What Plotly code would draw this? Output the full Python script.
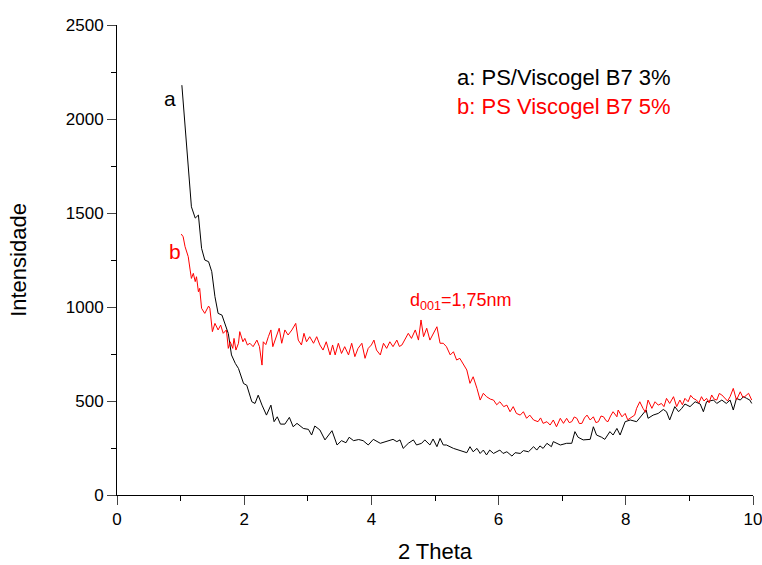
import plotly.graph_objects as go

# Series a: PS/Viscogel B7 3% (black)
a_x = [1.02, 1.05, 1.10, 1.15, 1.17, 1.23, 1.28, 1.33, 1.38, 1.44, 1.49, 1.54, 1.59, 1.65, 1.70,
       1.75, 1.80, 1.86, 1.91, 1.99, 2.04, 2.12, 2.17, 2.22, 2.28, 2.35, 2.42, 2.47, 2.52, 2.57,
       2.64, 2.71, 2.77, 2.83, 2.93, 3.01, 3.06, 3.11, 3.19, 3.27, 3.38, 3.46, 3.53, 3.60, 3.65,
       3.72, 3.80, 3.87, 3.95, 4.03, 4.14, 4.24, 4.32, 4.34, 4.40, 4.45, 4.50, 4.58, 4.66, 4.71,
       4.79, 4.84, 4.92, 4.97, 5.03, 5.08, 5.13, 5.18, 5.29, 5.39, 5.50, 5.55, 5.60, 5.66, 5.71,
       5.76, 5.81, 5.86, 5.92, 6.02, 6.07, 6.13, 6.21, 6.26, 6.34, 6.39, 6.47, 6.55, 6.60, 6.65,
       6.70, 6.76, 6.83, 6.86, 6.91, 6.97, 7.07, 7.15, 7.20, 7.25, 7.33, 7.44, 7.49, 7.54, 7.62,
       7.67, 7.75, 7.80, 7.86, 7.91, 7.99, 8.07, 8.17, 8.25, 8.32, 8.35, 8.43, 8.51, 8.59, 8.64,
       8.69, 8.77, 8.83, 8.88, 8.93, 9.01, 9.09, 9.17, 9.22, 9.27, 9.38, 9.43, 9.51, 9.58, 9.64,
       9.69, 9.74, 9.80, 9.85, 9.90, 9.95, 9.98]
a_y = [2180, 2050, 1830, 1610, 1533, 1473, 1489, 1312, 1250, 1241, 1188, 1055, 966, 957, 913,
       859, 745, 700, 673, 593, 584, 496, 487, 531, 478, 425, 478, 390, 416, 377,
       377, 413, 363, 381, 354, 349, 319, 367, 346, 293, 342, 266, 289, 278, 307,
       289, 295, 289, 266, 296, 275, 284, 293, 296, 284, 293, 248, 275, 293, 266,
       275, 293, 266, 298, 257, 301, 266, 266, 248, 239, 225, 257, 230, 248, 221,
       239, 213, 239, 221, 239, 221, 230, 207, 225, 221, 236, 230, 257, 239, 261,
       248, 275, 257, 284, 275, 266, 275, 275, 337, 307, 293, 296, 363, 319, 307,
       296, 337, 319, 354, 319, 390, 399, 390, 425, 452, 408, 425, 434, 455, 443,
       399, 470, 443, 461, 484, 470, 496, 484, 443, 496, 505, 487, 505, 487, 505,
       452, 514, 505, 523, 514, 505, 487]

# Series b: PS Viscogel B7 5% (red)
b_x = [1.01, 1.04, 1.07, 1.12, 1.15, 1.17, 1.20, 1.23, 1.25, 1.28, 1.30, 1.33, 1.38, 1.44, 1.46,
       1.50, 1.54, 1.59, 1.63, 1.67, 1.72, 1.75, 1.78, 1.82, 1.84, 1.87, 1.91, 1.93, 1.98, 2.01,
       2.05, 2.09, 2.14, 2.20, 2.24, 2.28, 2.30, 2.34, 2.38, 2.42, 2.45, 2.50, 2.55, 2.59, 2.64,
       2.69, 2.75, 2.81, 2.85, 2.90, 2.94, 2.98, 3.03, 3.09, 3.14, 3.19, 3.24, 3.29, 3.35, 3.39,
       3.43, 3.48, 3.53, 3.58, 3.64, 3.69, 3.74, 3.79, 3.85, 3.90, 3.95, 4.00, 4.04, 4.08, 4.14,
       4.19, 4.24, 4.29, 4.34, 4.40, 4.44, 4.48, 4.53, 4.58, 4.63, 4.69, 4.74, 4.78, 4.82, 4.87,
       4.92, 4.97, 5.03, 5.08, 5.13, 5.18, 5.24, 5.29, 5.34, 5.39, 5.44, 5.50, 5.55, 5.60, 5.66,
       5.71, 5.76, 5.81, 5.87, 5.92, 5.97, 6.02, 6.08, 6.13, 6.18, 6.23, 6.28, 6.34, 6.39, 6.44,
       6.49, 6.55, 6.62, 6.66, 6.70, 6.76, 6.81, 6.86, 6.91, 6.97, 7.02, 7.07, 7.11, 7.15, 7.19,
       7.23, 7.27, 7.31, 7.35, 7.39, 7.44, 7.49, 7.53, 7.57, 7.61, 7.65, 7.69, 7.72, 7.76, 7.80,
       7.86, 7.88, 7.94, 7.99, 8.03, 8.07, 8.14, 8.17, 8.22, 8.27, 8.31, 8.35, 8.41, 8.46, 8.51,
       8.56, 8.60, 8.64, 8.69, 8.75, 8.80, 8.85, 8.89, 8.93, 8.98, 9.02, 9.06, 9.11, 9.15, 9.19,
       9.23, 9.27, 9.31, 9.35, 9.39, 9.43, 9.47, 9.51, 9.56, 9.60, 9.64, 9.69, 9.74, 9.80, 9.84,
       9.87, 9.93, 9.98]
b_y = [1388, 1374, 1321, 1268, 1197, 1152, 1179, 1135, 1161, 1081, 1099, 993, 966, 1005, 993,
       869, 913, 878, 904, 860, 878, 780, 815, 780, 833, 771, 807, 869, 815, 833,
       798, 807, 789, 824, 789, 691, 815, 800, 842, 878, 789, 833, 887, 807, 878,
       851, 878, 913, 824, 798, 860, 815, 842, 807, 842, 798, 771, 815, 745, 798,
       745, 807, 753, 789, 745, 807, 736, 780, 807, 727, 780, 798, 824, 771, 745,
       807, 780, 815, 789, 824, 790, 798, 833, 860, 833, 878, 824, 931, 842, 887,
       824, 860, 895, 807, 807, 789, 745, 762, 718, 727, 700, 665, 594, 629, 567,
       505, 541, 523, 510, 505, 480, 496, 470, 478, 443, 470, 434, 425, 443, 408,
       425, 399, 390, 410, 381, 390, 372, 399, 363, 408, 381, 408, 385, 390, 415,
       408, 380, 381, 410, 425, 399, 416, 385, 390, 420, 416, 395, 390, 420, 443,
       416, 452, 416, 434, 400, 408, 425, 461, 496, 461, 440, 505, 461, 496, 478,
       487, 470, 514, 487, 523, 470, 505, 480, 514, 496, 530, 514, 505, 490, 523,
       500, 514, 490, 532, 510, 505, 540, 532, 514, 500, 523, 567, 505, 549, 520,
       523, 541, 505]

x_ticks = [0, 2, 4, 6, 8, 10]
y_ticks = [0, 500, 1000, 1500, 2000, 2500]

FONT = "Liberation Sans, Arial, sans-serif"

fig = go.Figure()
fig.add_trace(go.Scatter(x=a_x, y=a_y, mode="lines", line=dict(color="black", width=1),
                         showlegend=False))
fig.add_trace(go.Scatter(x=b_x, y=b_y, mode="lines", line=dict(color="#ff0000", width=1),
                         showlegend=False))

fig.update_layout(
    width=762, height=565,
    margin=dict(l=117, r=9, t=25, b=70, autoexpand=False),
    paper_bgcolor="white", plot_bgcolor="white",
    font=dict(family=FONT, color="black", size=17),
    xaxis=dict(range=[0, 10], tickvals=x_ticks, ticks="outside", ticklen=9, tickwidth=1,
               showline=True, linecolor="black", linewidth=1, showgrid=False, zeroline=False,
               ticklabeloverflow="allow", automargin=False,
               minor=dict(dtick=1, ticks="outside", ticklen=5, tickcolor="black", showgrid=False),
               title=dict(text="2 Theta", font=dict(size=22), standoff=15),
               tickfont=dict(size=17)),
    yaxis=dict(range=[0, 2500], tickvals=y_ticks, ticks="outside", ticklen=9, tickwidth=1,
               showline=True, linecolor="black", linewidth=1, showgrid=False, zeroline=False,
               ticklabeloverflow="allow", automargin=False,
               minor=dict(dtick=250, ticks="outside", ticklen=5, tickcolor="black", showgrid=False),
               title=dict(text="Intensidade", font=dict(size=22), standoff=33),
               tickfont=dict(size=17)),
)

fig.add_annotation(x=5.31, y=2223, text="a: PS/Viscogel B7 3%", showarrow=False,
                   xanchor="left", yanchor="middle", font=dict(size=22, color="black"))
fig.add_annotation(x=5.31, y=2064, text="b: PS Viscogel B7 5%", showarrow=False,
                   xanchor="left", yanchor="middle", font=dict(size=22, color="#ff0000"))
fig.add_annotation(x=0.83, y=2111, text="a", showarrow=False,
                   xanchor="center", yanchor="middle", font=dict(size=21, color="black"))
fig.add_annotation(x=0.91, y=1293, text="b", showarrow=False,
                   xanchor="center", yanchor="middle", font=dict(size=21, color="#ff0000"))
fig.add_annotation(x=4.58, y=1030, text="d<sub>001</sub>=1,75nm", showarrow=False,
                   xanchor="left", yanchor="middle", font=dict(size=18, color="#ff0000"))

fig.write_html(
    "out.html",
    config={"displayModeBar": False},
    post_script="document.body.style.margin='0';document.body.style.overflow='hidden';",
)
